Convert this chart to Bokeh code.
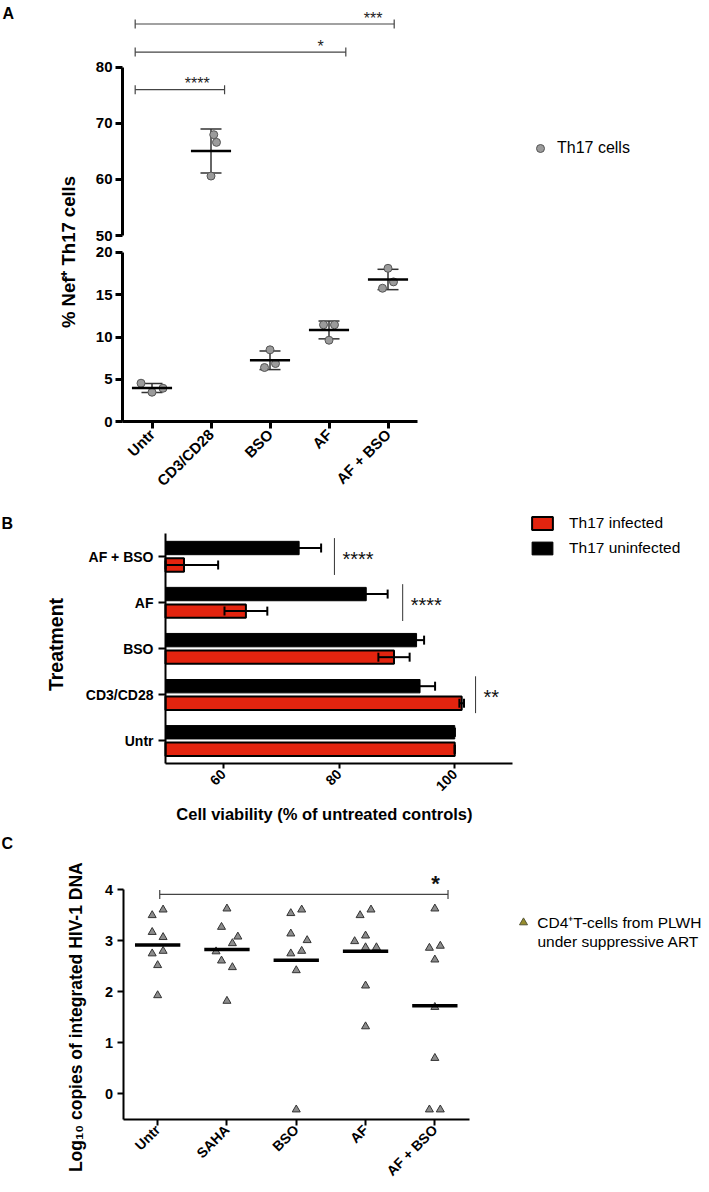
import numpy as np
from math import pi
from bokeh.plotting import figure
from bokeh.layouts import column
from bokeh.models import (Range1d, LinearAxis, FixedTicker, ColumnDataSource, Whisker,
                          TeeHead, Label, Legend, LegendItem)
from bokeh.core.properties import value
from bokeh.embed import file_html
from bokeh.resources import INLINE

FONT = "Liberation Sans"

# ---------------- Panel A data ----------------
a_groups = ["Untr", "CD3/CD28", "BSO", "AF", "AF + BSO"]
a_values = [
    [4.55, 3.49, 3.96],
    [67.97, 66.60, 60.60],
    [8.49, 6.87, 6.40],
    [11.44, 11.44, 9.62],
    [18.10, 16.50, 15.75],
]
a_jitter_slots = [[-2, 0, 2], [0.5, 1, 0], [0, 1, -1], [-1, 1, 0], [0, 1, -1]]
a_yticks_low = [0, 5, 10, 15, 20]
a_yticks_high = [50, 60, 70, 80]
a_sig_pairs = [("Untr", "CD3/CD28"), ("Untr", "AF"), ("Untr", "AF + BSO")]
a_sig_labels = ["****", "*", "***"]
a_sig_y = [76.0, 82.7, 87.7]
a_legend_label = "Th17 cells"
a_ylabel = "% Nef\u207a Th17 cells"

# ---------------- Panel B data ----------------
b_groups = ["Untr", "CD3/CD28", "BSO", "AF", "AF + BSO"]
b_infected_mean = [100.0, 101.2, 89.5, 63.9, 53.2]
b_infected_sd = [0.0, 0.4, 2.7, 3.7, 5.9]
b_uninfected_mean = [100.0, 94.0, 93.4, 84.7, 73.1]
b_uninfected_sd = [0.0, 2.6, 1.3, 3.7, 3.8]
b_xticks = [60, 80, 100]
b_sig_groups = ["AF + BSO", "AF", "CD3/CD28"]
b_sig_labels = ["****", "****", "**"]
b_sig_x = [79.2, 91.0, 103.6]
b_series = ["Th17 infected", "Th17 uninfected"]
b_xlabel = "Cell viability (% of untreated controls)"
b_ylabel = "Treatment"

# ---------------- Panel C data ----------------
c_groups = ["Untr", "SAHA", "BSO", "AF", "AF + BSO"]
c_values = [
    [3.50, 3.61, 3.17, 3.07, 2.75, 2.80, 2.52, 1.93],
    [3.63, 3.27, 3.08, 2.95, 2.79, 2.61, 2.48, 1.82],
    [3.54, 3.61, 3.14, 3.01, 2.75, 2.80, 2.42, -0.31],
    [3.50, 3.61, 3.10, 2.99, 2.87, 2.87, 2.12, 1.32],
    [3.63, 2.86, 2.90, 2.63, 1.70, 0.70, -0.31, -0.31],
]
c_jitter_slots = [
    [-1, 1, -1, 1, -1, 1, 0, 0],
    [0, -1, 2, 1, -2, -1, 1, 0],
    [-1, 1, -1, 2, -1, 1, 0, 0],
    [-1, 1, 0, -2, 0, 2, 0, 0],
    [0, -1, 1, 0, 0, 0, -1, 1],
]
c_yticks = [0, 1, 2, 3, 4]
c_sig_pair = ("Untr", "AF + BSO")
c_sig_label = "*"
c_sig_y = 3.91
c_legend_lines = ["CD4\u207aT-cells from PLWH", "under suppressive ART"]
c_ylabel = "Log\u2081\u2080 copies of integrated HIV-1 DNA"

W = 709


# ---------------- helpers ----------------
def style_axis(ax, line_w, tick_out, label_size, standoff):
    ax.axis_line_width = line_w
    ax.axis_line_color = "black"
    ax.major_tick_line_width = line_w
    ax.major_tick_line_color = "black"
    ax.major_tick_out = tick_out
    ax.major_tick_in = 0
    ax.minor_tick_line_color = None
    ax.major_label_text_font = FONT
    ax.major_label_text_font_style = "bold"
    ax.major_label_text_font_size = label_size
    ax.major_label_text_color = "black"
    ax.major_label_standoff = standoff


def base_fig(h, xr, yr):
    # the frame covers the whole figure; all axes are drawn at fixed data locations
    p = figure(width=W, height=h, x_range=xr, y_range=yr,
               x_axis_type=None, y_axis_type=None,
               min_border_left=0, min_border_right=0,
               min_border_top=0, min_border_bottom=0,
               toolbar_location=None, output_backend="svg")
    p.outline_line_color = None
    p.background_fill_color = "white"
    p.border_fill_color = "white"
    return p


def add_label(p, x, y, text, size, bold=True, angle=0.0, align="center", baseline="middle", **kw):
    p.add_layout(Label(x=x, y=y, text=text, angle=angle, text_font=FONT,
                       text_font_size=size, text_font_style="bold" if bold else "normal",
                       text_align=align, text_baseline=baseline, text_color="black", **kw))


def clean_legend(items, location, gw, gh, lh, standoff, spacing, size):
    return Legend(items=items, location=location, glyph_width=gw, glyph_height=gh,
                  label_height=lh, label_width=10, label_standoff=standoff, spacing=spacing,
                  padding=0, margin=0, border_line_color=None, background_fill_alpha=0,
                  label_text_font=FONT, label_text_font_size=size, label_text_color="black")


def heads(size, color, width):
    return dict(upper_head=TeeHead(size=size, line_color=color, line_width=width),
                lower_head=TeeHead(size=size, line_color=color, line_width=width))


# =============== Panel A (page y 0..505) ===============
A_TOP, A_H = 0, 505
A_AX, A_PX = 122.0, 59.0          # y axis position / px per category
A_Y0, A_PX_LO = 421.3, 8.48        # lower segment: value 0 position / px per unit
A_Y50, A_PX_HI = 235.0, 5.61       # upper segment: value 50 position / px per unit
A_BREAK = 35.0
A_SLOT = 0.093


def a_x(px):
    return (px - A_AX) / A_PX


def a_ylo(py):
    return (A_Y0 - py) / A_PX_LO


pA = base_fig(A_H, Range1d(a_x(0), a_x(W)), Range1d(a_ylo(A_TOP + A_H), a_ylo(A_TOP)))
pA.extra_y_ranges = {"high": Range1d(50 + (A_Y50 - (A_TOP + A_H)) / A_PX_HI,
                                     50 + (A_Y50 - A_TOP) / A_PX_HI)}

a_cx = np.arange(len(a_groups)) + 0.5
a_idx = {g: i for i, g in enumerate(a_groups)}

xaxA = LinearAxis(fixed_location=0, ticker=FixedTicker(ticks=list(a_cx)),
                  major_label_overrides={float(c): g for c, g in zip(a_cx, a_groups)},
                  bounds=(0, len(a_groups)))
style_axis(xaxA, 3, 7, "15px", 3)
xaxA.major_label_orientation = pi / 4
pA.add_layout(xaxA, "below")

yaxA_lo = LinearAxis(fixed_location=0, bounds=(min(a_yticks_low), max(a_yticks_low)),
                     ticker=FixedTicker(ticks=a_yticks_low))
yaxA_hi = LinearAxis(y_range_name="high", fixed_location=0,
                     bounds=(min(a_yticks_high), max(a_yticks_high)),
                     ticker=FixedTicker(ticks=a_yticks_high))
for ax in (yaxA_lo, yaxA_hi):
    style_axis(ax, 3, 7, "15px", 3)
    pA.add_layout(ax, "left")

pts = {"default": dict(x=[], y=[]), "high": dict(x=[], y=[])}
sts = {"default": dict(x=[], m=[], lo=[], hi=[], x0=[], x1=[]),
       "high": dict(x=[], m=[], lo=[], hi=[], x0=[], x1=[])}
for i, (vals, slots) in enumerate(zip(a_values, a_jitter_slots)):
    key = "high" if np.mean(vals) > A_BREAK else "default"
    for v, s in zip(vals, slots):
        pts[key]["x"].append(a_cx[i] + s * A_SLOT)
        pts[key]["y"].append(v)
    m, sd = float(np.mean(vals)), float(np.std(vals, ddof=1))
    sts[key]["x"].append(a_cx[i])
    sts[key]["m"].append(m)
    sts[key]["lo"].append(m - sd)
    sts[key]["hi"].append(m + sd)
    sts[key]["x0"].append(a_cx[i] - 0.34)
    sts[key]["x1"].append(a_cx[i] + 0.34)

a_point_renderer = None
for key in ("default", "high"):
    src = ColumnDataSource(sts[key])
    pA.add_layout(Whisker(source=src, base="x", lower="lo", upper="hi", dimension="height",
                          y_range_name=key, line_color="#333333", line_width=1.5,
                          **heads(21, "#333333", 1.5)))
    r = pA.scatter(x="x", y="y", source=ColumnDataSource(pts[key]), y_range_name=key,
                   marker="circle", size=8, fill_color="#9b9b9b", line_color="#555555",
                   line_width=1)
    if key == "default":
        a_point_renderer = r
    pA.segment(x0="x0", x1="x1", y0="m", y1="m", source=src, y_range_name=key,
               line_color="black", line_width=2.5)

# significance brackets (upper segment)
a_br_left = [-0.285, -0.285, -0.285]
a_br_right = [0.23, 0.285, 0.105]
a_star_dx = [-0.234, -0.144, -0.251]
brsrc = ColumnDataSource(dict(
    y=a_sig_y,
    x0=[a_cx[a_idx[p0]] + d for (p0, _), d in zip(a_sig_pairs, a_br_left)],
    x1=[a_cx[a_idx[p1]] + d for (_, p1), d in zip(a_sig_pairs, a_br_right)],
    sx=[a_cx[a_idx[p1]] + d for (_, p1), d in zip(a_sig_pairs, a_star_dx)],
    sy=[y + 1.6 for y in a_sig_y], t=a_sig_labels))
pA.add_layout(Whisker(source=brsrc, base="y", lower="x0", upper="x1", dimension="width",
                      y_range_name="high", line_color="#444444", line_width=1.2,
                      **heads(9, "#444444", 1.2)))
pA.text(x="sx", y="sy", text="t", source=brsrc, y_range_name="high", text_align="center",
        text_baseline="middle", y_offset=3, text_font=value(FONT),
        text_font_size=value("16px"), text_color="#222222")

pA.add_layout(clean_legend([LegendItem(label=a_legend_label, renderers=[a_point_renderer])],
                           (530, (A_TOP + A_H) - 138.3 - 20), 20, 20, 20, 7, 0, "16px"))
add_label(pA, a_x(67.5), a_ylo(251.5), a_ylabel, "18.5px", angle=pi / 2)
add_label(pA, a_x(2), a_ylo(12.5), "A", "16px", align="left")

# =============== Panel B (page y 505..828) ===============
B_TOP, B_H = 505, 323
B_AX, B_PX = 165.0, 5.785          # x=50 position / px per %
B_Y0, B_PY = 763.3, 46.06          # bottom of category axis / px per category
B_XMIN = 50.0
B_OFF, B_BAR_H = 0.185, 0.29


def b_x(px):
    return B_XMIN + (px - B_AX) / B_PX


def b_y(py):
    return (B_Y0 - py) / B_PY


pB = base_fig(B_H, Range1d(b_x(0), b_x(W)), Range1d(b_y(B_TOP + B_H), b_y(B_TOP)))
b_cy = np.arange(len(b_groups)) + 0.5
b_idx = {g: i for i, g in enumerate(b_groups)}

xaxB = LinearAxis(fixed_location=0, ticker=FixedTicker(ticks=b_xticks), bounds=(B_XMIN, 110))
style_axis(xaxB, 2, 5, "14px", 3)
xaxB.major_label_orientation = pi / 4
pB.add_layout(xaxB, "below")
yaxB = LinearAxis(fixed_location=B_XMIN, ticker=FixedTicker(ticks=list(b_cy)),
                  major_label_overrides={float(c): g for c, g in zip(b_cy, b_groups)},
                  bounds=(0, len(b_groups)))
style_axis(yaxB, 2, 7, "14px", 5)
pB.add_layout(yaxB, "left")

b_inf = ColumnDataSource(dict(
    y=b_cy - B_OFF, m=b_infected_mean,
    lo=np.maximum(np.array(b_infected_mean) - np.array(b_infected_sd), B_XMIN),
    hi=np.array(b_infected_mean) + np.array(b_infected_sd)))
b_uninf = ColumnDataSource(dict(
    y=b_cy + B_OFF, m=b_uninfected_mean,
    lo=np.maximum(np.array(b_uninfected_mean) - np.array(b_uninfected_sd), B_XMIN),
    hi=np.array(b_uninfected_mean) + np.array(b_uninfected_sd)))

r_uninf = pB.hbar(y="y", left=B_XMIN, right="m", height=B_BAR_H, source=b_uninf,
                  fill_color="black", line_color="black", line_width=1)
r_inf = pB.hbar(y="y", left=B_XMIN, right="m", height=B_BAR_H, source=b_inf,
                fill_color="#e3240f", line_color="black", line_width=2)
for src in (b_uninf, b_inf):
    pB.add_layout(Whisker(source=src, base="y", lower="lo", upper="hi", dimension="width",
                          level="overlay", line_color="black", line_width=2,
                          **heads(9, "black", 2)))

bsig = ColumnDataSource(dict(
    x=b_sig_x,
    y0=[b_cy[b_idx[g]] - 0.4 for g in b_sig_groups],
    y1=[b_cy[b_idx[g]] + 0.4 for g in b_sig_groups],
    ty=[b_cy[b_idx[g]] + 0.03 for g in b_sig_groups],
    t=b_sig_labels))
pB.segment(x0="x", x1="x", y0="y0", y1="y1", source=bsig, line_color="#333333", line_width=1)
pB.text(x="x", y="ty", text="t", source=bsig, x_offset=8, y_offset=4, text_align="left",
        text_baseline="middle", text_font=value(FONT), text_font_size=value("20px"),
        text_color="#111111")

pB.add_layout(clean_legend([LegendItem(label=b_series[0], renderers=[r_inf]),
                            LegendItem(label=b_series[1], renderers=[r_uninf])],
                           (529.1, (B_TOP + B_H) - 513.9 - 43), 26, 16, 18, 14, 7, "15.5px"))
add_label(pB, b_x(1), b_y(522.5), "B", "16px", align="left")
add_label(pB, b_x(55.7), b_y(644), b_ylabel, "19.5px", angle=pi / 2)
add_label(pB, b_x(323.9), b_y(813.3), b_xlabel, "16.5px")

# =============== Panel C (page y 828..1192) ===============
C_TOP, C_H = 828, 364
C_AX, C_PX = 122.5, 69.3
C_Y0, C_PY = 1093.3, 51.0
C_YMIN = -0.5
C_SLOT = 0.0786


def c_x(px):
    return (px - C_AX) / C_PX


def c_y(py):
    return (C_Y0 - py) / C_PY


pC = base_fig(C_H, Range1d(c_x(0), c_x(W)), Range1d(c_y(C_TOP + C_H), c_y(C_TOP)))
c_cx = np.arange(len(c_groups)) + 0.5
c_idx = {g: i for i, g in enumerate(c_groups)}

xaxC = LinearAxis(fixed_location=C_YMIN, ticker=FixedTicker(ticks=list(c_cx)),
                  major_label_overrides={float(c): g for c, g in zip(c_cx, c_groups)},
                  bounds=(0, len(c_groups)))
style_axis(xaxC, 2, 6, "14px", 2)
xaxC.major_label_orientation = pi / 4
pC.add_layout(xaxC, "below")
yaxC = LinearAxis(fixed_location=0, ticker=FixedTicker(ticks=c_yticks),
                  bounds=(C_YMIN, max(c_yticks)))
style_axis(yaxC, 2, 6, "14.5px", 4)
pC.add_layout(yaxC, "left")

cx_pts, cy_pts = [], []
cm = dict(x0=[], x1=[], m=[])
for i, (vals, slots) in enumerate(zip(c_values, c_jitter_slots)):
    for v, s in zip(vals, slots):
        cx_pts.append(c_cx[i] + s * C_SLOT)
        cy_pts.append(v)
    cm["x0"].append(c_cx[i] - 0.327)
    cm["x1"].append(c_cx[i] + 0.327)
    cm["m"].append(float(np.mean(vals)))

pC.scatter(x=cx_pts, y=cy_pts, marker="triangle", size=8, fill_color="#8c8c8c",
           line_color="#333333", line_width=1)
pC.segment(x0="x0", x1="x1", y0="m", y1="m", source=ColumnDataSource(cm),
           line_color="black", line_width=3.5)

csig = ColumnDataSource(dict(y=[c_sig_y], x0=[c_cx[c_idx[c_sig_pair[0]]] + 0.03],
                             x1=[c_cx[c_idx[c_sig_pair[1]]] + 0.19],
                             sx=[c_cx[c_idx[c_sig_pair[1]]] + 0.01], sy=[c_sig_y + 0.29],
                             t=[c_sig_label]))
pC.add_layout(Whisker(source=csig, base="y", lower="x0", upper="x1", dimension="width",
                      line_color="#444444", line_width=1.2, **heads(9, "#444444", 1.2)))
pC.text(x="sx", y="sy", text="t", source=csig, text_align="center", text_baseline="middle",
        y_offset=4, text_font=value(FONT), text_font_size=value("22px"),
        text_font_style="bold", text_color="#111111")

# legend-only renderer (the key symbol is olive in the reference); NaN keeps it off the plot
r_leg = pC.scatter(x=[np.nan], y=[np.nan], marker="triangle", size=8, fill_color="#968c2c",
                   line_color="#555533", line_width=1)
pC.add_layout(clean_legend([LegendItem(label=c_legend_lines[0], renderers=[r_leg], index=0)],
                           (513.3, (C_TOP + C_H) - 912.7 - 20), 20, 20, 20, 4, 0, "15.5px"))
add_label(pC, c_x(537), c_y(941), c_legend_lines[1], "15.5px", bold=False, align="left")
add_label(pC, c_x(1), c_y(843.3), "C", "16px", align="left")
add_label(pC, c_x(75.6), c_y(1016.7), c_ylabel, "17.5px", angle=pi / 2)

layout = column(pA, pB, pC)
open("out.html", "w").write(file_html(layout, INLINE))
